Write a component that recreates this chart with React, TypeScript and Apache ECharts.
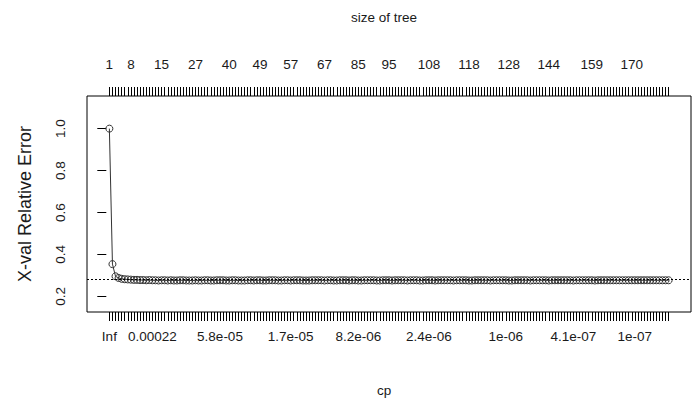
import React, { useEffect, useRef } from "react";
import * as echarts from "echarts";

// Cross-validated relative error for each cp row (index 1..n)
const xerror: number[] = [
  1.0, 0.354, 0.296, 0.288, 0.284, 0.282, 0.281, 0.28, 0.279, 0.279,
  0.278, 0.278, 0.277, 0.278, 0.277, 0.277, 0.276, 0.277, 0.277, 0.276,
  0.277, 0.276, 0.276, 0.277, 0.277, 0.276, 0.276, 0.276, 0.277, 0.276,
  0.276, 0.277, 0.277, 0.276, 0.276, 0.277, 0.277, 0.277, 0.276, 0.276,
  0.277, 0.277, 0.276, 0.276, 0.276, 0.277, 0.277, 0.276, 0.277, 0.277,
  0.276, 0.276, 0.277, 0.277, 0.277, 0.276, 0.276, 0.277, 0.277, 0.276,
  0.277, 0.277, 0.277, 0.276, 0.276, 0.276, 0.277, 0.277, 0.277, 0.277,
  0.276, 0.277, 0.277, 0.276, 0.276, 0.277, 0.277, 0.277, 0.276, 0.277,
  0.277, 0.276, 0.276, 0.277, 0.277, 0.277, 0.277, 0.276, 0.276, 0.277,
  0.277, 0.277, 0.276, 0.277, 0.277, 0.277, 0.277, 0.276, 0.277, 0.277,
  0.277, 0.276, 0.276, 0.277, 0.277, 0.277, 0.276, 0.277, 0.277, 0.277,
  0.277, 0.277, 0.276, 0.277, 0.277, 0.277, 0.277, 0.276, 0.276, 0.277,
  0.277, 0.277, 0.277, 0.277, 0.276, 0.277, 0.277, 0.277, 0.277, 0.277,
  0.276, 0.276, 0.277, 0.277, 0.277, 0.277, 0.277, 0.276, 0.277, 0.277,
  0.277, 0.277, 0.277, 0.276, 0.277, 0.277, 0.277, 0.277, 0.277, 0.277,
  0.277, 0.276, 0.277, 0.277, 0.277, 0.277, 0.277, 0.277, 0.276, 0.277,
  0.277, 0.277, 0.277, 0.277, 0.277, 0.277, 0.277, 0.277, 0.277, 0.277,
  0.277, 0.277, 0.277, 0.277, 0.277, 0.277, 0.277, 0.277, 0.277, 0.277,
  0.277, 0.277, 0.277,
];

// Top axis: size of tree labels (those drawn without overlap) and their row index
const sizeTickIdx: number[] = [1, 8, 18, 29, 40, 50, 60, 71, 82, 92, 105, 118, 131, 144, 158, 171];
const sizeTickLabels: string[] = ["1", "8", "15", "27", "40", "49", "57", "67", "85", "95", "108", "118", "128", "144", "159", "170"];

// Bottom axis: cp labels and their row index
const cpTickIdx: number[] = [1, 15, 37, 60, 82, 105, 130, 152, 172];
const cpTickLabels: string[] = ["Inf", "0.00022", "5.8e-05", "1.7e-05", "8.2e-06", "2.4e-06", "1e-06", "4.1e-07", "1e-07"];

const yTicks: number[] = [0.2, 0.4, 0.6, 0.8, 1.0];
const refLine = 0.283; // min xerror + 1 SE

const FONT = "'Liberation Sans', Arial, sans-serif";
const TXT = "#1a1a1a";

export default function App() {
  const ref = useRef<HTMLDivElement>(null);
  useEffect(() => {
    const chart = echarts.init(ref.current!, null, { renderer: "svg" });
    const n = xerror.length;
    const pad = 0.04 * (n - 1);
    const idx = xerror.map((_, i) => i + 1);
    const data = xerror.map((v, i) => [i + 1, v]);
    const common: any = {
      type: "value",
      min: 1 - pad,
      max: n + pad,
      splitLine: { show: false },
      axisLine: { show: false },
    };
    const labelStyle = { fontSize: 13.5, color: TXT, fontFamily: FONT, hideOverlap: false };
    chart.setOption({
      animation: false,
      backgroundColor: "#fff",
      grid: {
        left: 87,
        top: 96,
        width: 604,
        height: 216,
        show: true,
        borderColor: "#000",
        borderWidth: 1,
        backgroundColor: "transparent",
      },
      xAxis: [
        {
          ...common,
          position: "bottom",
          axisTick: { show: true, customValues: idx, length: 9, lineStyle: { color: "#000", width: 1 } },
          axisLabel: {
            ...labelStyle,
            customValues: cpTickIdx,
            margin: 17,
            formatter: (v: number) => {
              const k = cpTickIdx.indexOf(Math.round(v));
              return k >= 0 ? cpTickLabels[k] : "";
            },
          },
        },
        {
          ...common,
          position: "top",
          axisTick: { show: true, customValues: idx, length: 9, lineStyle: { color: "#000", width: 1 } },
          axisLabel: {
            ...labelStyle,
            customValues: sizeTickIdx,
            margin: 25,
            formatter: (v: number) => {
              const k = sizeTickIdx.indexOf(Math.round(v));
              return k >= 0 ? sizeTickLabels[k] : "";
            },
          },
        },
      ],
      yAxis: {
        type: "value",
        min: 0.1257,
        max: 1.1557,
        splitLine: { show: false },
        axisLine: { show: false },
        axisTick: { show: true, customValues: yTicks, length: 9, lineStyle: { color: "#000", width: 1 } },
        axisLabel: {
          ...labelStyle,
          customValues: yTicks,
          rotate: 90,
          margin: 20,
          formatter: (v: number) => v.toFixed(1),
        },
      },
      series: [
        {
          type: "line",
          xAxisIndex: 0,
          yAxisIndex: 0,
          data,
          symbol: "circle",
          symbolSize: 7,
          lineStyle: { color: "#333", width: 1 },
          itemStyle: { color: "rgba(0,0,0,0)", borderColor: "#333", borderWidth: 1 },
          emphasis: { disabled: true },
          markLine: {
            silent: true,
            symbol: "none",
            label: { show: false },
            lineStyle: { color: "#000", type: [2, 2], width: 1 },
            data: [{ yAxis: refLine }],
          },
        },
      ],
      graphic: [
        {
          type: "text",
          x: 384,
          y: 17,
          style: {
            text: "size of tree",
            fontSize: 13.5,
            fontFamily: FONT,
            fill: TXT,
            textAlign: "center",
            textVerticalAlign: "middle",
            align: "center",
            verticalAlign: "middle",
          },
        },
        {
          type: "text",
          x: 384,
          y: 390,
          style: {
            text: "cp",
            fontSize: 13.5,
            fontFamily: FONT,
            fill: TXT,
            textAlign: "center",
            textVerticalAlign: "middle",
            align: "center",
            verticalAlign: "middle",
          },
        },
        {
          type: "text",
          x: 25,
          y: 204,
          rotation: Math.PI / 2,
          style: {
            text: "X-val Relative Error",
            fontSize: 18,
            fontFamily: FONT,
            fill: TXT,
            textAlign: "center",
            textVerticalAlign: "middle",
            align: "center",
            verticalAlign: "middle",
          },
        },
      ],
    });
    return () => chart.dispose();
  }, []);
  return (
    <div
      ref={ref}
      style={{ position: "fixed", left: 0, top: 0, width: 697, height: 400 }}
    />
  );
}
